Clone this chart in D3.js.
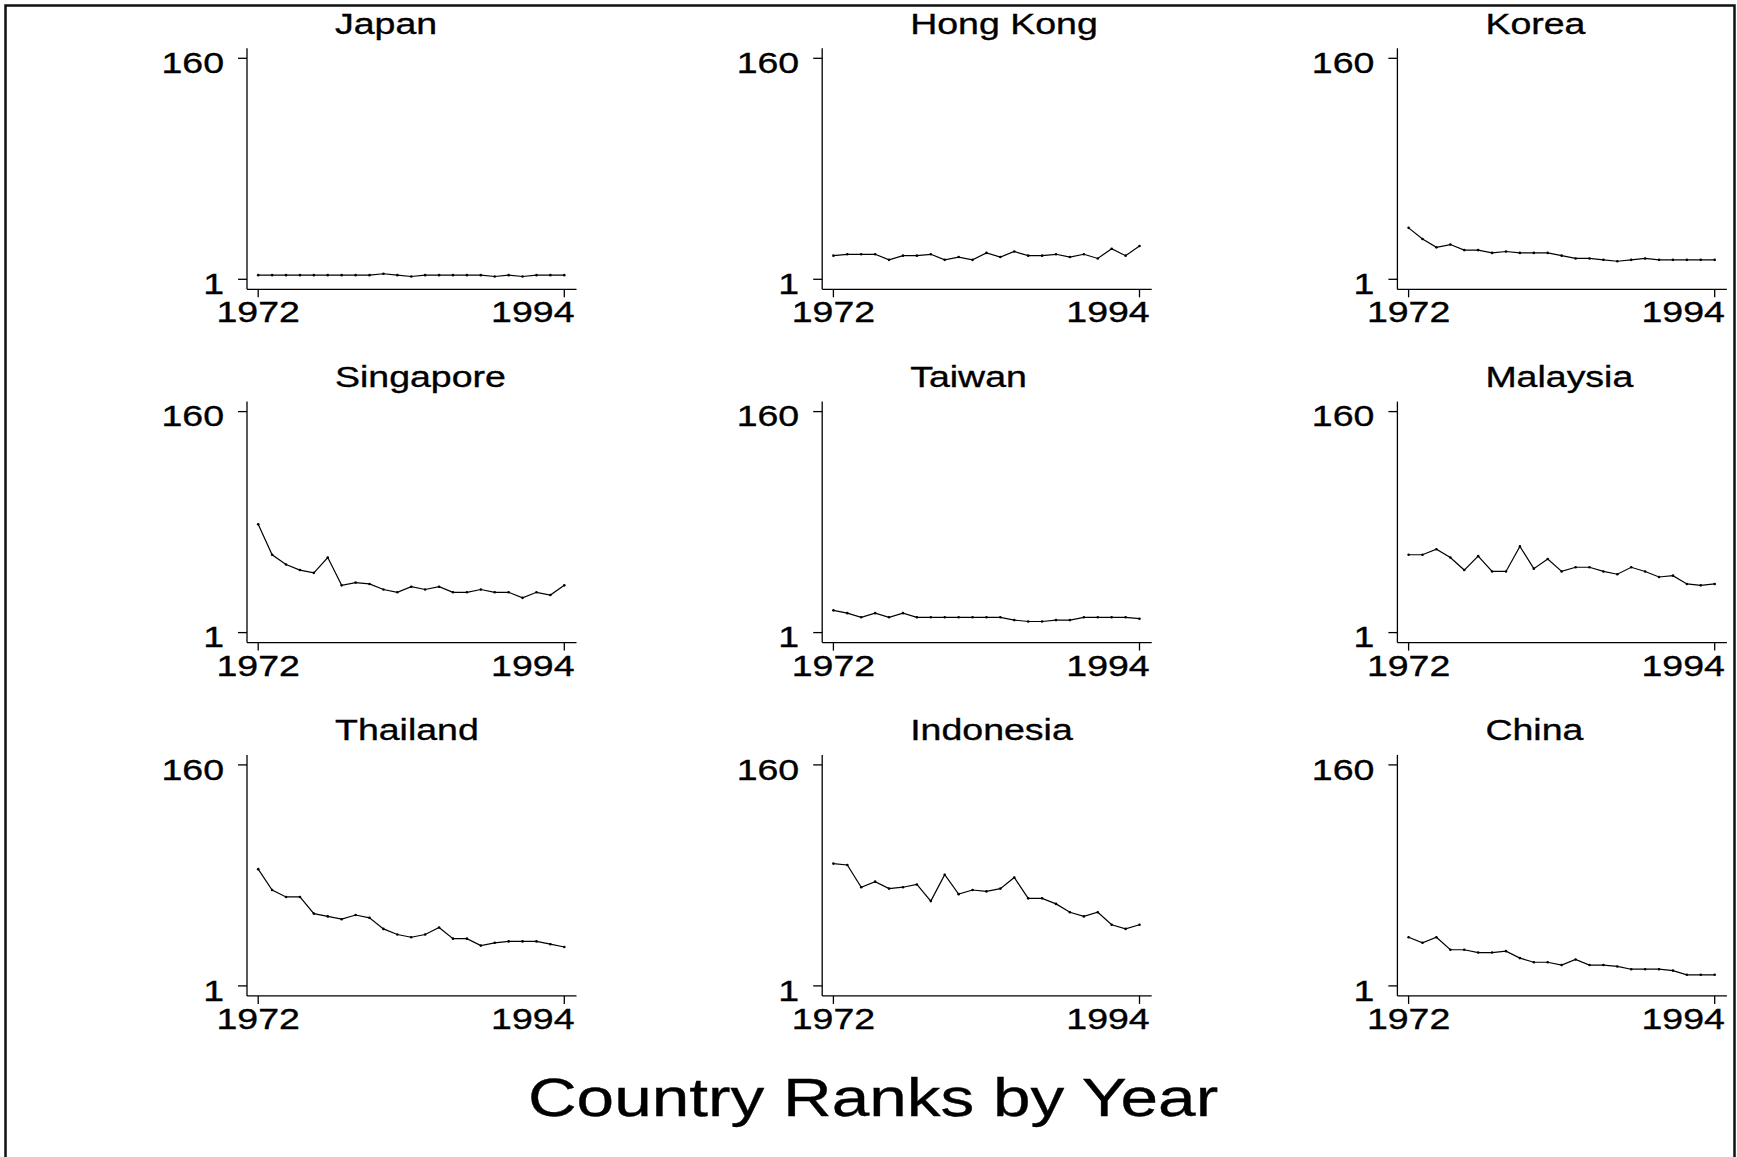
<!DOCTYPE html>
<html>
<head>
<meta charset="utf-8">
<script src="https://cdn.jsdelivr.net/npm/d3@7"></script>
<style>
  body { margin: 0; background: #fff; }
  text { font-family: 'Liberation Sans', Arial, sans-serif; fill: #000; stroke: #000; stroke-width: 0.35; }
</style>
</head>
<body>
<svg id="chart" width="1737" height="1157"></svg>
<script>
// years on the x axis
const years = [1972, 1973, 1974, 1975, 1976, 1977, 1978, 1979, 1980, 1981, 1982,
  1983, 1984, 1985, 1986, 1987, 1988, 1989, 1990, 1991, 1992, 1993, 1994]

const countries = ['Japan', 'Hong Kong', 'Korea', 'Singapore', 'Taiwan', 'Malaysia',
  'Thailand', 'Indonesia', 'China']

// rank per year
const japan = [4, 4, 4, 4, 4, 4, 4, 4, 4, 5, 4, 3, 4, 4, 4, 4, 4, 3, 4, 3, 4, 4, 4]
const hongKong = [18, 19, 19, 19, 15, 18, 18, 19, 15, 17, 15, 20, 17, 21, 18, 18, 19, 17, 19, 16, 23, 18, 25]
const korea = [38, 30, 24, 26, 22, 22, 20, 21, 20, 20, 20, 18, 16, 16, 15, 14, 15, 16, 15, 15, 15, 15, 15]
const singapore = [79, 57, 50, 46, 44, 55, 35, 37, 36, 32, 30, 34, 32, 34, 30, 30, 32, 30, 30, 26, 30, 28, 35]
const taiwan = [17, 15, 12, 15, 12, 15, 12, 12, 12, 12, 12, 12, 12, 10, 9, 9, 10, 10, 12, 12, 12, 12, 11]
const malaysia = [57, 57, 61, 55, 46, 56, 45, 45, 63, 47, 54, 45, 48, 48, 45, 43, 48, 45, 41, 42, 36, 35, 36]
const thailand = [85, 70, 65, 65, 53, 51, 49, 52, 50, 42, 38, 36, 38, 43, 35, 35, 30, 32, 33, 33, 33, 31, 29]
const indonesia = [89, 88, 72, 76, 71, 72, 74, 62, 81, 67, 70, 69, 71, 79, 64, 64, 60, 54, 51, 54, 45, 42, 45]
const china = [36, 32, 36, 27, 27, 25, 25, 26, 21, 18, 18, 16, 20, 16, 16, 15, 13, 13, 13, 12, 9, 9, 9]

const series = [japan, hongKong, korea, singapore, taiwan, malaysia, thailand, indonesia, china]

const yTicks = [1, 160]
const xTicks = [1972, 1994]
const mainTitle = 'Country Ranks by Year'

const svg = d3.select('#chart')
const stretch = 1.25
const fs = 30

svg.append('rect')
  .attr('width', 1737).attr('height', 1157).attr('fill', '#fff')

// outer frame, open at the bottom
svg.append('path')
  .attr('d', 'M5.5,1160 L5.5,5.5 L1734.5,5.5 L1734.5,1160')
  .attr('fill', 'none')
  .attr('stroke', '#111')
  .attr('stroke-width', 2.5)

function label (g, txt, x, y, anchor, size) {
  g.append('text')
    .attr('transform', 'translate(' + x + ',' + y + ') scale(' + stretch + ',1)')
    .attr('text-anchor', anchor)
    .attr('font-size', size)
    .text(txt)
}

const plotW = 329.5
const plotH = 221

countries.forEach(function (name, i) {
  const col = i % 3
  const row = Math.floor(i / 3)
  const ax = 247 + col * 575.2
  const top = 58.3 + row * 353.3
  const g = svg.append('g')

  const x = d3.scaleLinear().domain([1972, 1994]).range([ax + 11.2, ax + 317.3])
  const y = d3.scaleLinear().domain([1, 160]).range([top + plotH, top])
  const base = top + plotH + 10

  // axes
  g.append('line')
    .attr('x1', ax).attr('x2', ax)
    .attr('y1', top - 10).attr('y2', base)
    .attr('stroke', '#000').attr('stroke-width', 1.3)
  g.append('line')
    .attr('x1', ax).attr('x2', ax + plotW)
    .attr('y1', base).attr('y2', base)
    .attr('stroke', '#000').attr('stroke-width', 1.3)

  yTicks.forEach(function (t) {
    g.append('line')
      .attr('x1', ax - 9).attr('x2', ax)
      .attr('y1', y(t)).attr('y2', y(t))
      .attr('stroke', '#000').attr('stroke-width', 1.3)
    label(g, t, ax - 23, y(t) + 14.8, 'end', fs)
  })

  xTicks.forEach(function (t, k) {
    g.append('line')
      .attr('x1', x(t)).attr('x2', x(t))
      .attr('y1', base).attr('y2', base + 8)
      .attr('stroke', '#000').attr('stroke-width', 1.3)
    if (k === 0) label(g, t, x(t), base + 33, 'middle', fs)
    else label(g, t, ax + plotW - 2, base + 33, 'end', fs)
  })

  label(g, name, ax + 88, top - 24.6, 'start', fs)

  const pts = years.map(function (yr, j) { return [yr, series[i][j]] })
  const line = d3.line().x(d => x(d[0])).y(d => y(d[1]))

  g.append('path')
    .datum(pts)
    .attr('d', line)
    .attr('fill', 'none')
    .attr('stroke', '#000')
    .attr('stroke-width', 1.2)

  g.selectAll('circle')
    .data(pts)
    .enter()
    .append('circle')
    .attr('cx', d => x(d[0]))
    .attr('cy', d => y(d[1]))
    .attr('r', 1.3)
    .attr('fill', '#000')
})

label(svg, mainTitle, 873, 1116, 'middle', 54)
</script>
</body>
</html>
